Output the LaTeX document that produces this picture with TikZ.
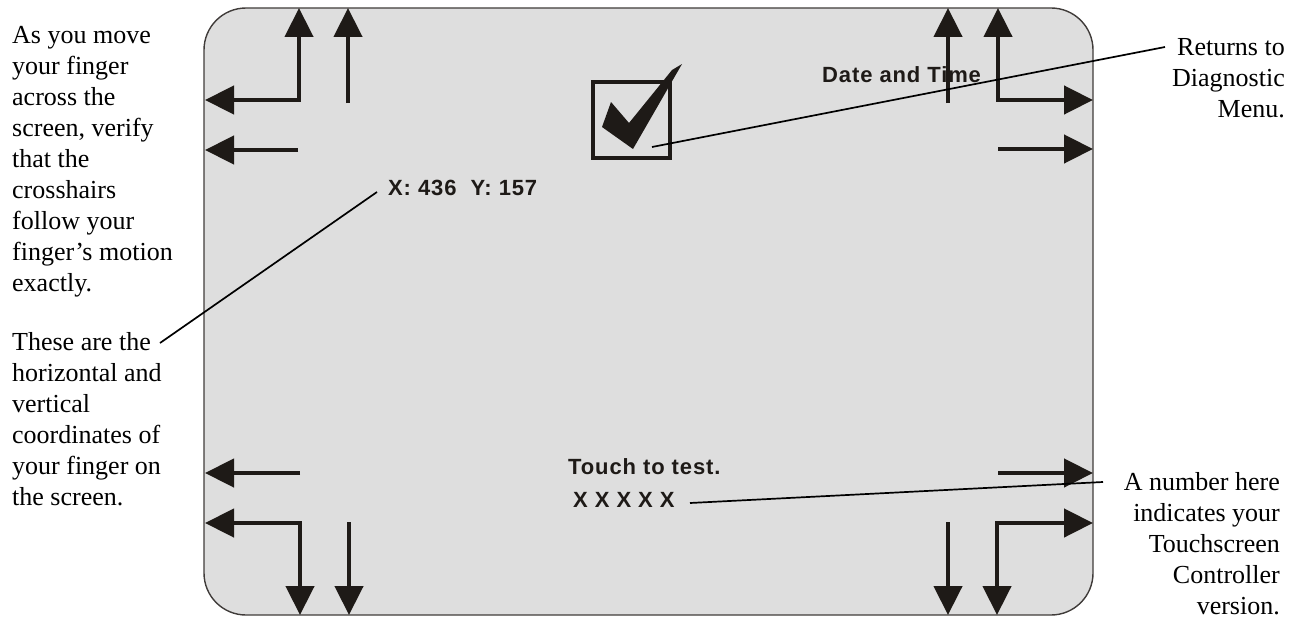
\documentclass[tikz,border=0pt]{standalone}
\usepackage{fontspec}
\setmainfont{Liberation Serif}
\newfontfamily\scrfont[LetterSpace=4]{Liberation Sans}
\usetikzlibrary{arrows.meta}
\definecolor{ink}{HTML}{1E1A17}
\definecolor{screen}{HTML}{DEDEDE}
\tikzset{
  note/.style={font=\fontsize{26}{31}\selectfont, inner sep=0pt, text=black},
  scr/.style={font=\scrfont\bfseries\fontsize{22}{26}\selectfont, inner sep=0pt, text=ink},
  arr/.style={draw=ink, line width=4.5pt, line join=miter,
    -{Triangle[length=29pt,width=28pt]}},
  larr/.style={draw=ink, line width=4.5pt, line join=miter,
    {Triangle[length=29pt,width=28pt]}-{Triangle[length=29pt,width=28pt]}},
  callout/.style={draw=black, line width=1.7pt}
}
\begin{document}
\begin{tikzpicture}[x=1pt,y=-1pt]
\useasboundingbox (0,0) rectangle (1297,618);
% screen
\draw[fill=screen, draw=ink!85, line width=1.4pt, rounded corners=42pt] (204,8) rectangle (1093,615);
% texts on screen
\node[scr, anchor=base west] (date) at (822,82) {Date and Time};
\node[scr, anchor=base west] (xy) at (388,195) {X: 436\ \ Y: 157};
\node[scr, anchor=base west] (touch) at (568,474) {Touch to test.};
\node[scr, anchor=base west] (xxx) at (573,507) {X X X X X};
% arrows top-left
\draw[larr] (205,100) -- (299,100) -- (299,8);
\draw[arr] (348,103) -- (348,8);
\draw[arr] (298,150) -- (205,150);
% arrows top-right
\draw[arr] (948,103) -- (948,8);
\draw[larr] (998,8) -- (998,100) -- (1093,100);
\draw[arr] (998,149) -- (1093,149);
% arrows bottom-left
\draw[arr] (300,473) -- (205,473);
\draw[larr] (205,523) -- (300,523) -- (300,615);
\draw[arr] (349,522) -- (349,615);
% arrows bottom-right
\draw[arr] (998,473) -- (1093,473);
\draw[larr] (1093,523) -- (997,523) -- (997,615);
\draw[arr] (948,522) -- (948,615);
% check box
\node[draw=ink, line width=4.5pt, minimum width=77pt, minimum height=76pt, inner sep=0pt] (box) at (631.5,120) {};
\fill[ink] (611,102) -- (602,127) -- (633,149) -- (682,64) -- (672,70) -- (629,123) -- cycle;
% side notes (anchored at the baseline of their last line)
\node[note, anchor=base west, align=left] (left1) at (12,291) {As you move\\your finger\\across the\\screen, verify\\that the\\crosshairs\\follow your\\finger’s motion\\exactly.};
\node[note, anchor=base west, align=left] (left2) at (12,505) {These are the\\horizontal and\\vertical\\coordinates of\\your finger on\\the screen.};
\node[note, anchor=base east, align=right] (right1) at (1285,117) {Returns to\\Diagnostic\\Menu.};
\node[note, anchor=base east, align=right] (right2) at (1280,614) {A number here\\indicates your\\Touchscreen\\Controller\\version.};
% callouts
\coordinate (c1a) at (652,147);
\coordinate (c1b) at (1165,47);
\coordinate (c2a) at (377,192);
\coordinate (c2b) at (160,343);
\coordinate (c3a) at (690,503);
\coordinate (c3b) at (1103,482);
\draw[callout] (c1a) -- (c1b);
\draw[callout] (c2a) -- (c2b);
\draw[callout] (c3a) -- (c3b);
\end{tikzpicture}
\end{document}
